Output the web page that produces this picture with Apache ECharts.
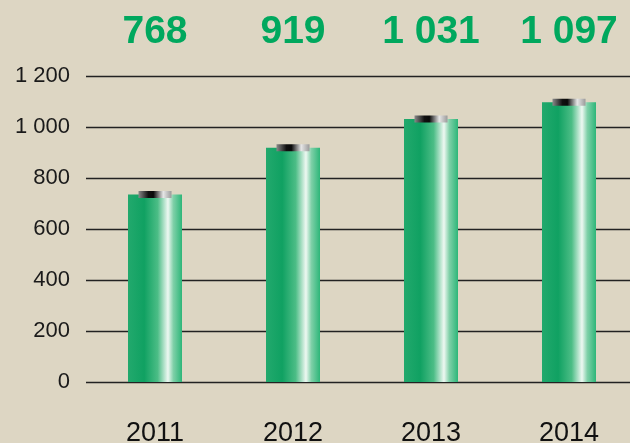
<!DOCTYPE html>
<html>
<head>
<meta charset="utf-8">
<script src="https://cdn.jsdelivr.net/npm/echarts@6/dist/echarts.min.js"></script>
<style>
  html, body { margin: 0; padding: 0; background: #ddd6c3; overflow: hidden; }
  #chart { width: 640px; height: 443px; }
</style>
</head>
<body>
<div id="chart"></div>
<script>
var years = ['2011', '2012', '2013', '2014'];
var topLabels = ['768', '919', '1 031', '1 097'];
var barValues = [735, 919, 1031, 1097];
var yTicks = { min: 0, max: 1200, interval: 200 };

var myChart = echarts.init(document.getElementById('chart'));

function fmt(v) {
  // 1200 -> "1 200"
  return String(v).replace(/\B(?=(\d{3})+(?!\d))/g, ' ');
}

var option = {
  backgroundColor: '#ddd6c3',
  textStyle: { fontFamily: 'Liberation Sans' },
  grid: { left: 86, right: 2, top: 76, bottom: 61, outerBoundsMode: 'none', containLabel: false },
  xAxis: [{
    type: 'category',
    data: years,
    axisLine: { show: false },
    axisTick: { show: false },
    axisLabel: { color: '#111', fontSize: 27, margin: 38 }
  }, {
    type: 'category',
    position: 'top',
    data: topLabels,
    axisLine: { show: false },
    axisTick: { show: false },
    axisLabel: { color: '#00a85e', fontSize: 39, fontWeight: 'bold', margin: 24 }
  }],
  yAxis: {
    type: 'value',
    min: yTicks.min,
    max: yTicks.max,
    interval: yTicks.interval,
    axisLine: { show: false },
    axisTick: { show: false },
    axisLabel: { color: '#1a1a1a', fontSize: 22, margin: 16, formatter: fmt },
    splitLine: { lineStyle: { color: '#222', width: 1.3 } }
  },
  series: [{
    type: 'bar',
    data: barValues,
    barWidth: 54,
    itemStyle: {
      color: new echarts.graphic.LinearGradient(0, 0, 1, 0, [
        { offset: 0, color: '#22a96d' },
        { offset: 0.3, color: '#10a162' },
        { offset: 0.55, color: '#4cbd86' },
        { offset: 0.74, color: '#eef8f2' },
        { offset: 0.84, color: '#7fd0a8' },
        { offset: 1, color: '#2db679' }
      ])
    },
    z: 3
  }, {
    type: 'pictorialBar',
    data: barValues,
    symbol: 'rect',
    symbolSize: [33, 7],
    symbolPosition: 'end',
    symbolOffset: [0, '-50%'],
    itemStyle: {
      color: new echarts.graphic.LinearGradient(0, 0, 1, 0, [
        { offset: 0, color: '#8a8a8a' },
        { offset: 0.3, color: '#111' },
        { offset: 0.45, color: '#0a0a0a' },
        { offset: 0.75, color: '#e6e6e6' },
        { offset: 1, color: '#9a9a9a' }
      ])
    },
    z: 4
  }]
};

myChart.setOption(option, true);
</script>
</body>
</html>
